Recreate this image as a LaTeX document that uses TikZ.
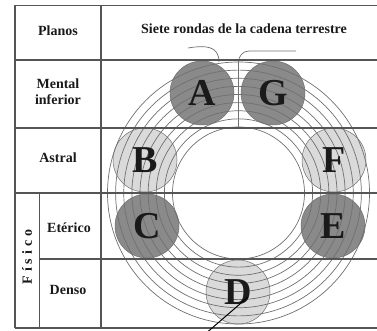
\documentclass[tikz,border=0pt]{standalone}
\usepackage{fontspec}
\setmainfont{Liberation Serif}
\usetikzlibrary{positioning,calc}
\definecolor{tablegray}{HTML}{555555}
\definecolor{ringgray}{HTML}{707070}
\definecolor{darkglobe}{HTML}{8A8A8A}
\definecolor{lightglobe}{HTML}{DADADA}
\definecolor{inkgray}{HTML}{1A1A1A}

\begin{document}
\begin{tikzpicture}[x=1pt,y=-1pt,
	grid/.style={draw=tablegray, line width=1.1pt},
	ring/.style={draw=ringgray, line width=0.7pt},
	planet/.style={font=\fontsize{38}{38}\selectfont\bfseries, text=inkgray},
	rowlabel/.style={font=\fontsize{14}{16}\selectfont\bfseries, text=inkgray, align=center}]
						\useasboundingbox (0,0) rectangle (377,331);
						\foreach \x/\y/\c in {202/93/darkglobe, 273/93/darkglobe, 145/160/lightglobe, 334/160/lightglobe, 147/226/darkglobe, 333/226/darkglobe, 238/292/lightglobe} {
							\draw[fill=\c, draw=ringgray, line width=0.5pt] (\x,\y) circle (32);
						}
						\foreach \k in {0,...,8} {
							\draw[ring] (238.5,193) circle ({66+8.125*\k});
						}
						\draw[ring] (188,48) .. controls (206,45) and (219,46) .. (219,62);
						\draw[ring] (296,51) -- (249,51) to[out=180,in=90] (238.5,62) -- (238.5,128);
						\foreach \y in {5.5,60,128,193,328} {
							\draw[grid] (15,\y) -- (377,\y);
						}
						\draw[grid] (39.5,259) -- (377,259);
						\draw[grid] (15,5.5) -- (15,328);
						\draw[grid] (101,5.5) -- (101,328);
						\draw[grid] (39.5,193) -- (39.5,328);
						\node[planet] (A) at (202,93) {A};
						\node[planet] (G) at (273,93) {G};
						\node[planet] (B) at (145,160) {B};
						\node[planet] (F) at (334,160) {F};
						\node[planet] (C) at (147,226) {C};
						\node[planet] (E) at (333,226) {E};
						\node[planet] (D) at (238,292) {D};
						\node[rowlabel] (planos) at (58,31) {Planos};
						\node[rowlabel] (rondas) at (244,29) {Siete rondas de la cadena terrestre};
						\node[rowlabel] (mental) at (58,92) {Mental\\inferior};
						\node[rowlabel] (astral) at (58,158) {Astral};
						\node[rowlabel] (eterico) at (69,228) {Etérico};
						\node[rowlabel] (denso) at (68,290) {Denso};
						\node[rowlabel, rotate=90] (fisico) at (27,257) {F\kern4ptí\kern4pts\kern4pti\kern4ptc\kern4pto};
						\coordinate (pin) at (248,297);
						\coordinate (pinfoot) at (204,335);
						\draw[black, line width=1pt] (pin) -- (pinfoot);
					\end{tikzpicture}
\end{document}
